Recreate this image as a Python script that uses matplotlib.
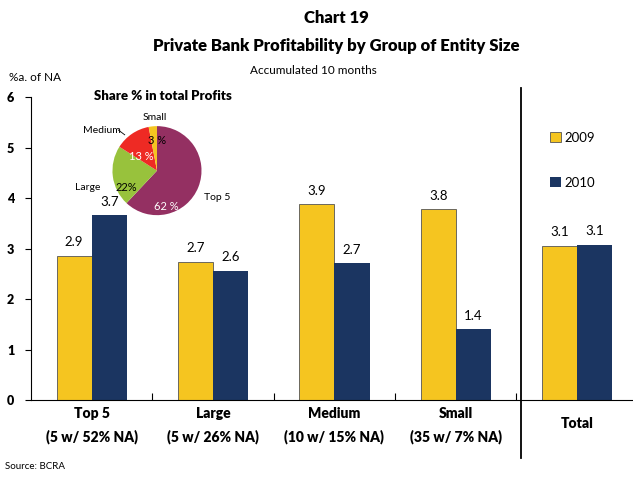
import numpy as np
import matplotlib.pyplot as plt
from matplotlib.transforms import ScaledTranslation

plt.rcParams['font.family'] = ['Lato', 'DejaVu Sans']

# bar data (%a. of NA)
categories = ['Top 5\n(5 w/ 52% NA)', 'Large\n(5 w/ 26% NA)', 'Medium\n(10 w/ 15% NA)',
              'Small\n(35 w/ 7% NA)', 'Total']
vals_2009 = [2.86, 2.74, 3.88, 3.78, 3.06]
vals_2010 = [3.66, 2.56, 2.71, 1.40, 3.07]
label_2009 = ['2.9', '2.7', '3.9', '3.8', '3.1']
label_2010 = ['3.7', '2.6', '2.7', '1.4', '3.1']

# pie data (share % in total profits)
pie_names = ['Top 5', 'Large', 'Medium', 'Small']
pie_shares = [62, 22, 13, 3]
pie_pct = ['62 %', '22%', '13 %', '3 %']

yellow = '#F5C520'
navy = '#1B3561'
pie_colors = ['#943062', '#98C23C', '#EE2A24', '#F5C520']

fig = plt.figure(figsize=(6.33, 4.78), dpi=100)
ax = fig.add_axes([0.049, 0.163, 0.951, 0.634])

x = np.arange(len(categories))
w = 0.29
ax.bar(x - w / 2, vals_2009, w, color=yellow, edgecolor='#555555', linewidth=0.6, label='2009')
ax.bar(x + w / 2, vals_2010, w, color=navy, label='2010')
for i in range(len(categories)):
    ax.text(x[i] - w / 2, vals_2009[i] + 0.15, label_2009[i], ha='center', va='bottom', fontsize=9.5)
    ax.text(x[i] + w / 2, vals_2010[i] + 0.15, label_2010[i], ha='center', va='bottom', fontsize=9.5)

ax.set_xlim(-0.5, 4.46)
ax.set_ylim(0, 6)
ax.set_yticks(range(7))
ax.set_yticklabels([str(v) for v in range(7)], fontweight='heavy', fontsize=9)
ax.tick_params(axis='y', direction='out', length=4, width=0.8, pad=8)
ax.set_xticks(np.arange(-0.5, 4, 1)[1:], minor=True)
ax.tick_params(axis='x', which='minor', direction='in', length=5, width=0.8)
ax.set_xticks(x)
ax.set_xticklabels(categories, fontweight='heavy', fontsize=10, linespacing=1.75)
ax.tick_params(axis='x', which='major', length=0, pad=5)
# Total label sits between the two lines of the other labels
tot = ax.get_xticklabels()[-1]
tot.set_transform(tot.get_transform() + ScaledTranslation(0, -7 / 72, fig.dpi_scale_trans))
for s in ['top', 'right']:
    ax.spines[s].set_visible(False)
ax.spines['left'].set_linewidth(0.8)
ax.spines['bottom'].set_linewidth(0.8)

# separator before Total
ax.plot([3.54, 3.54], [-1.15, 6.18], color='black', lw=1.3, clip_on=False)

# legend
leg = ax.legend(loc='upper left', bbox_to_anchor=(0.843, 0.925), frameon=False, fontsize=9.5,
                handlelength=0.8, handleheight=0.8, labelspacing=2.5, handletextpad=0.3)

fig.text(0.531, 0.963, 'Chart 19', ha='center', va='center', fontsize=12, fontweight='heavy')
fig.text(0.531, 0.903, 'Private Bank Profitability by Group of Entity Size', ha='center', va='center',
         fontsize=12, fontweight='heavy')
fig.text(0.495, 0.853, 'Accumulated 10 months', ha='center', va='center', fontsize=8.5)
fig.text(0.015, 0.838, '%a. of NA', ha='left', va='center', fontsize=8.5)
fig.text(0.008, 0.025, 'Source: BCRA', ha='left', va='center', fontsize=7)

# inset pie
pax = fig.add_axes([0.176, 0.548, 0.144, 0.19])
pax.pie(pie_shares, colors=pie_colors, startangle=90, counterclock=False,
        wedgeprops=dict(linewidth=0))
pax.set_xlim(-1.02, 1.02)
pax.set_ylim(-1.02, 1.02)
pax.set_aspect('equal')
fig.text(0.258, 0.800, 'Share % in total Profits', ha='center', va='center', fontsize=9.5, fontweight='heavy')
pct_pos = [(0.262, 0.568), (0.199, 0.608), (0.223, 0.672), (0.248, 0.707)]
pct_col = ['white', 'black', 'white', 'black']
for (px, py), t, c in zip(pct_pos, pie_pct, pct_col):
    fig.text(px, py, t, ha='center', va='center', fontsize=8, color=c)
name_pos = [(0.343, 0.586), (0.138, 0.608), (0.161, 0.728), (0.245, 0.755)]
for (px, py), t in zip(name_pos, pie_names):
    fig.text(px, py, t, ha='center', va='center', fontsize=7.5)
fig.add_artist(plt.Line2D([0.187, 0.197], [0.728, 0.718], color='black', lw=0.6))

fig.savefig('out.png', dpi=100)
